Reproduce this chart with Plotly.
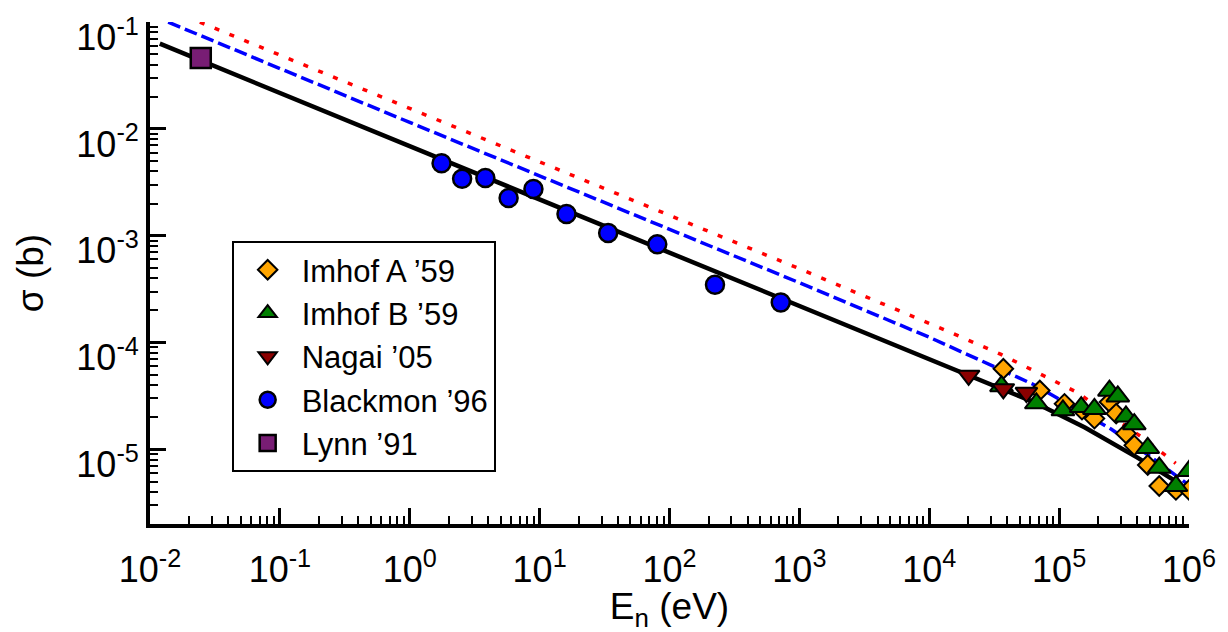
import math
import plotly.graph_objects as go

# ---------------- data ----------------
imhofA_E = [3.72e4, 7.1e4, 1.10e5, 1.5e5, 1.87e5, 2.44e5, 2.75e5, 3.27e5, 3.79e5, 4.81e5, 5.9e5, 7.93e5, 1.0e6]
imhofA_s = [5.68e-5, 3.56e-5, 2.67e-5, 2.35e-5, 1.94e-5, 2.77e-5, 2.16e-5, 1.41e-5, 1.09e-5, 7.13e-6, 4.54e-6, 4.17e-6, 4.17e-6]

imhofB_E = [3.6e4, 6.68e4, 1.07e5, 1.48e5, 1.87e5, 2.44e5, 2.83e5, 3.27e5, 3.79e5, 4.81e5, 5.9e5, 7.93e5, 1.0e6]
imhofB_s = [3.9e-5, 2.70e-5, 2.32e-5, 2.49e-5, 2.39e-5, 3.54e-5, 3.13e-5, 2.03e-5, 1.72e-5, 1.03e-5, 6.73e-6, 4.54e-6, 6.27e-6]

nagai_E = [2.01e4, 3.72e4, 5.60e4]
nagai_s = [4.92e-5, 3.68e-5, 3.40e-5]

blackmon_E = [1.757, 2.53, 3.82, 5.77, 8.96, 16.1, 33.7, 80.5, 224, 719]
blackmon_s = [4.78e-3, 3.42e-3, 3.47e-3, 2.26e-3, 2.74e-3, 1.60e-3, 1.06e-3, 8.30e-4, 3.47e-4, 2.37e-4]

lynn_E = [0.0246]
lynn_s = [0.0461]

# model curves
black_E = [0.0119, 1e3, 1e4, 6.3e4, 1.58e5, 3.98e5, 7.94e5]
black_s = [0.0628, 2.17e-4, 6.85e-5, 2.79e-5, 1.60e-5, 8.41e-6, 5.01e-6]

blue_E = [0.0138, 1.0, 1e3, 1e4, 6.3e4, 2.51e5, 5.01e5, 1.0e6]
blue_s = [0.1, 0.0115, 3.63e-4, 1.12e-4, 4.07e-5, 1.55e-5, 8.6e-6, 4.62e-6]

red_E = [0.0242, 1.0, 1e3, 1.36e4, 3.5e4, 1.36e5, 4.67e5, 7.9e5]
red_s = [0.1, 0.0155, 4.91e-4, 1.29e-4, 7.83e-5, 3.44e-5, 1.22e-5, 7.4e-6]

x_tickvals = [1e-2, 1e-1, 1e0, 1e1, 1e2, 1e3, 1e4, 1e5, 1e6]
x_ticktext = ["10<sup>-2</sup>", "10<sup>-1</sup>", "10<sup>0</sup>", "10<sup>1</sup>", "10<sup>2</sup>",
              "10<sup>3</sup>", "10<sup>4</sup>", "10<sup>5</sup>", "10<sup>6</sup>"]
y_tickvals = [1e-5, 1e-4, 1e-3, 1e-2, 1e-1]
y_ticktext = ["10<sup>-5</sup>", "10<sup>-4</sup>", "10<sup>-3</sup>", "10<sup>-2</sup>", "10<sup>-1</sup>"]

# ---------------- figure ----------------
FONT = "Liberation Sans, Arial, Helvetica, sans-serif"
fig = go.Figure()

fig.add_trace(go.Scatter(x=red_E, y=red_s, mode="lines", showlegend=False, hoverinfo="skip",
                         line=dict(color="#ff0000", width=3.5, dash="5px,11px")))
fig.add_trace(go.Scatter(x=blue_E, y=blue_s, mode="lines", showlegend=False, hoverinfo="skip",
                         line=dict(color="#0000ff", width=3.5, dash="13px,5px")))
fig.add_trace(go.Scatter(x=black_E, y=black_s, mode="lines", showlegend=False, hoverinfo="skip",
                         line=dict(color="#000000", width=4.5)))

mline = dict(color="black", width=2)
fig.add_trace(go.Scatter(x=imhofA_E, y=imhofA_s, mode="markers", name="Imhof A \u201959",
                         marker=dict(symbol="diamond", size=15, color="#ffa500", line=mline)))
fig.add_trace(go.Scatter(x=imhofB_E, y=imhofB_s, mode="markers", name="Imhof B \u201959",
                         marker=dict(symbol="triangle-up", size=20, color="#007f00", line=mline)))
fig.add_trace(go.Scatter(x=nagai_E, y=nagai_s, mode="markers", name="Nagai \u201905",
                         marker=dict(symbol="triangle-down", size=19, color="#8b0000", line=mline)))
fig.add_trace(go.Scatter(x=blackmon_E, y=blackmon_s, mode="markers", name="Blackmon \u201996",
                         marker=dict(symbol="circle", size=18, color="#0000ff", line=dict(color="black", width=2.5))))
fig.add_trace(go.Scatter(x=lynn_E, y=lynn_s, mode="markers", name="Lynn \u201991",
                         marker=dict(symbol="square", size=20, color="#781d74", line=dict(color="black", width=2.5))))

minor_x = [m * 10 ** d for d in range(-2, 6) for m in range(2, 10)]
minor_y = [m * 10 ** d for d in range(-6, -1) for m in range(2, 10)]

fig.update_layout(
    width=1228, height=632,
    margin=dict(l=150, r=35, t=20, b=108),
    paper_bgcolor="white", plot_bgcolor="white",
    font=dict(family=FONT, color="black"),
    showlegend=True,
    legend=dict(x=0.0786, y=0.5635, xanchor="left", yanchor="top",
                bgcolor="white", bordercolor="black", borderwidth=2,
                font=dict(size=31, family=FONT), itemwidth=58,
                entrywidth=210, entrywidthmode="pixels"),
    xaxis=dict(type="log", range=[-2, 6], tickmode="array", tickvals=x_tickvals, ticktext=x_ticktext,
               ticks="inside", ticklen=16, tickwidth=2.5, tickcolor="black",
               showline=True, linewidth=4, linecolor="black", mirror=False,
               showgrid=False, zeroline=False,
               minor=dict(tickmode="array", tickvals=minor_x, ticks="inside", ticklen=8,
                          tickwidth=2, tickcolor="black", showgrid=False),
               tickfont=dict(size=36, family=FONT), ticklabelstandoff=11,
               title=dict(text="E<sub>n</sub> (eV)", font=dict(size=37, family=FONT), standoff=4)),
    yaxis=dict(type="log", range=[math.log10(2e-6), -0.999], tickmode="array", tickvals=y_tickvals, ticktext=y_ticktext,
               ticks="inside", ticklen=16, tickwidth=2.5, tickcolor="black",
               showline=True, linewidth=4, linecolor="black", mirror=False,
               showgrid=False, zeroline=False,
               minor=dict(tickmode="array", tickvals=minor_y, ticks="inside", ticklen=8,
                          tickwidth=2, tickcolor="black", showgrid=False),
               tickfont=dict(size=36, family=FONT), ticklabelshift=15,
               title=dict(text="\u03c3 (b)", font=dict(size=37, family=FONT), standoff=22)),
)

fig.write_html("out.html")
